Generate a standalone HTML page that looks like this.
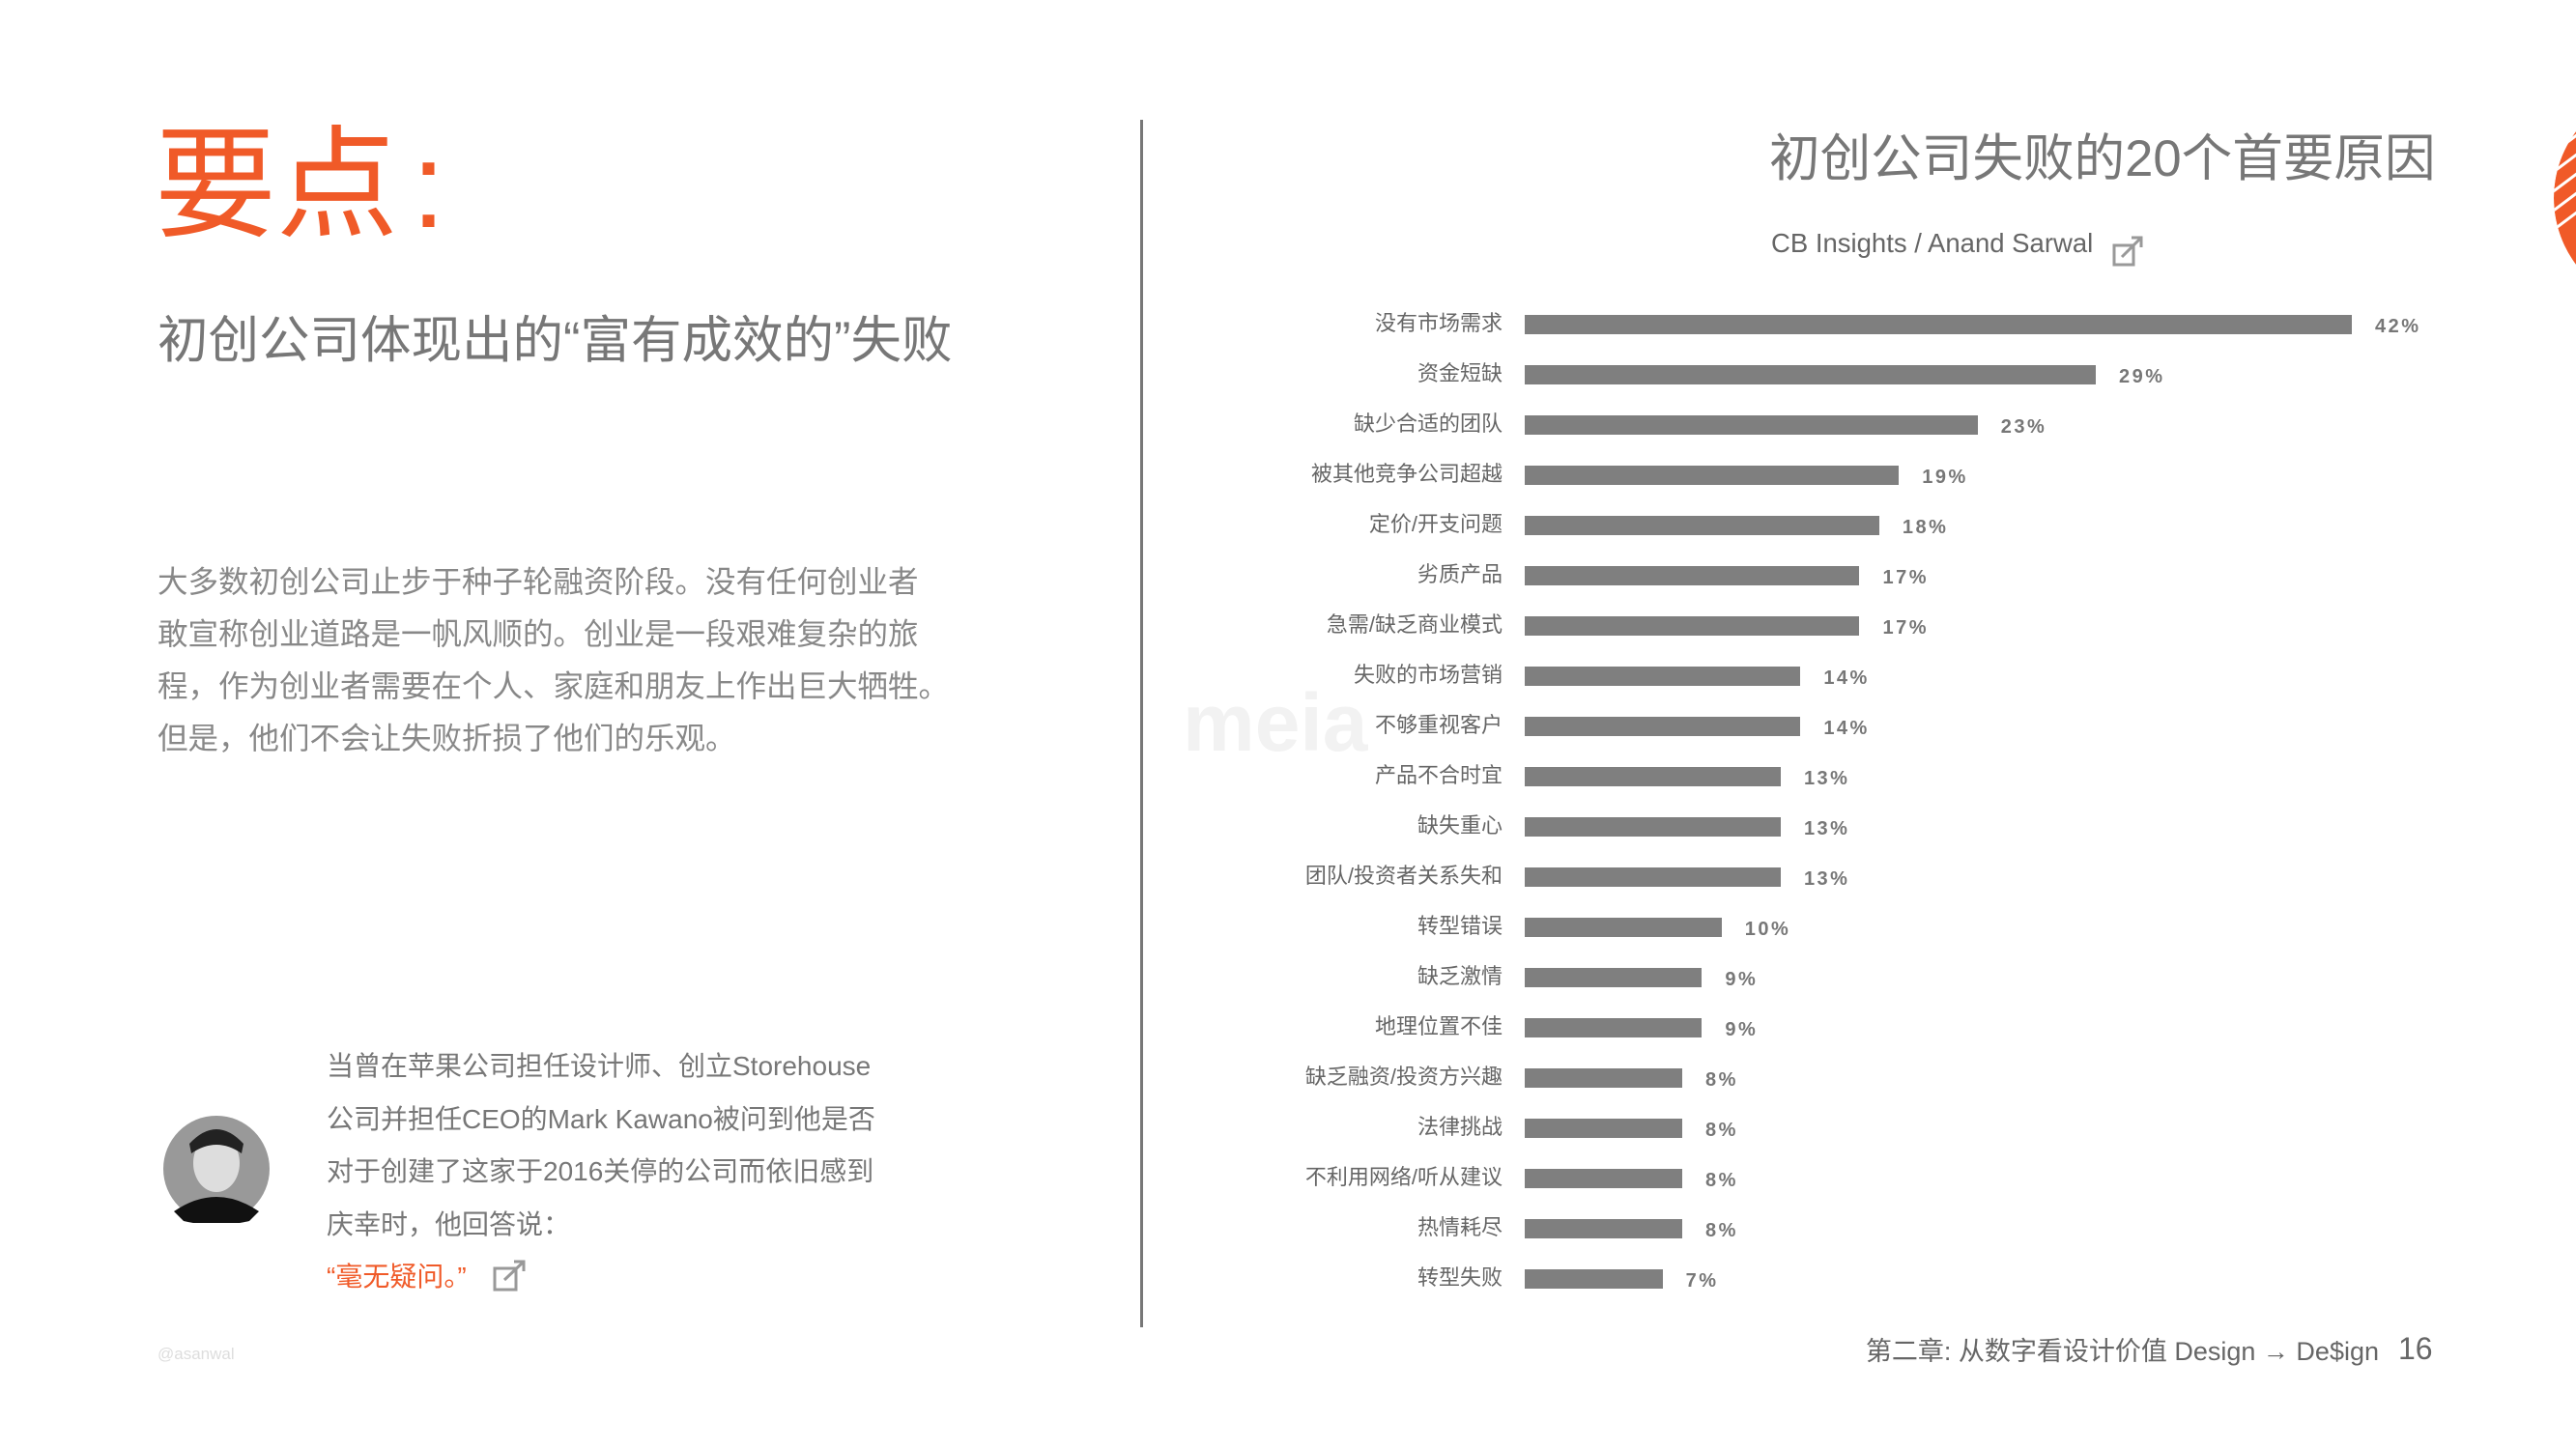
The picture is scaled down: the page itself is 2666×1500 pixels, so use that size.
<!DOCTYPE html>
<html><head><meta charset="utf-8"><style>
body{margin:0;width:2666px;height:1500px;background:#fff;position:relative;overflow:hidden;font-family:"Liberation Sans","Noto Sans CJK SC",sans-serif;color:#777;}
.a{position:absolute;white-space:nowrap;}
.lbl{position:absolute;right:1111px;font-size:22px;color:#666;line-height:22px;}
.bar{position:absolute;left:1578px;height:20px;background:#7f7f7f;}
.val{position:absolute;font-size:20px;font-weight:bold;color:#777;letter-spacing:2.5px;line-height:20px;}
</style></head><body>
<div class="a" style="left:160px;top:122px;font-size:126px;line-height:140px;color:#f05a28;">要点<span style="margin-left:14px">:</span></div>
<div class="a" style="left:163px;top:323px;font-size:52.5px;line-height:60px;color:#777;">初创公司体现出的“富有成效的”失败</div>
<div class="a" style="left:163px;top:575px;font-size:31.5px;line-height:54px;color:#888;">大多数初创公司止步于种子轮融资阶段。没有任何创业者<br>敢宣称创业道路是一帆风顺的。创业是一段艰难复杂的旅<br>程，作为创业者需要在个人、家庭和朋友上作出巨大牺牲。<br>但是，他们不会让失败折损了他们的乐观。</div>
<div class="a" style="left:1224px;top:700px;font-size:84px;font-weight:bold;color:#f2f2f2;">meia</div>
<div class="a" style="left:1180px;top:124px;width:3px;height:1250px;background:#777;"></div>
<svg class="a" style="left:168px;top:1154px" width="112" height="112"><circle cx="56" cy="56" r="55" fill="#999"/><ellipse cx="56" cy="50" rx="24" ry="30" fill="#ddd"/><path d="M28 30 Q56 0 84 30 L82 40 Q56 22 30 40Z" fill="#222"/><path d="M12 100 Q56 70 100 100 L90 110 Q56 118 22 110Z" fill="#111"/></svg>
<div class="a" style="left:338px;top:1077px;font-size:28px;line-height:54.5px;color:#777;">当曾在苹果公司担任设计师、创立Storehouse<br>公司并担任CEO的Mark Kawano被问到他是否<br>对于创建了这家于2016关停的公司而依旧感到<br>庆幸时，他回答说：<br><span style="color:#f05a28">“毫无疑问。”</span></div>
<svg class="a" style="left:510px;top:1303px" width="36" height="36"><rect x="2" y="10" width="22" height="22" fill="none" stroke="#999" stroke-width="3"/><path d="M12 22 L32 3 M22 3 H32 V13" fill="none" stroke="#999" stroke-width="3"/></svg>
<div class="a" style="left:163px;top:1392px;font-size:17px;color:#ddd;">@asanwal</div>
<div class="a" style="left:1831px;top:132px;font-size:52.6px;line-height:66px;color:#777;">初创公司失败的20个首要原因</div>
<div class="a" style="left:1833px;top:236px;font-size:27.5px;line-height:32px;color:#666;">CB Insights / Anand Sarwal</div>
<svg class="a" style="left:2186px;top:242px" width="36" height="36"><rect x="2" y="12" width="20" height="20" fill="none" stroke="#999" stroke-width="3"/><path d="M10 24 L30 4 M20 4 H30 V14" fill="none" stroke="#999" stroke-width="3"/></svg>
<svg class="a" style="left:2600px;top:90px" width="66" height="240"><defs><clipPath id="c"><circle cx="158" cy="115" r="115"/></clipPath></defs><g clip-path="url(#c)"><circle cx="158" cy="115" r="115" fill="#f05a28"/><g stroke="#fff" stroke-width="3">
<line x1="0" y1="60" x2="80" y2="0"/><line x1="0" y1="80" x2="100" y2="5"/><line x1="0" y1="100" x2="120" y2="10"/><line x1="0" y1="120" x2="140" y2="15"/><line x1="0" y1="140" x2="160" y2="20"/><line x1="0" y1="160" x2="180" y2="25"/><line x1="0" y1="180" x2="200" y2="30"/></g></g></svg>
<div id="chart"></div>
<div class="a" style="right:204px;top:1382px;font-size:27px;line-height:34px;color:#666;">第二章: 从数字看设计价值 Design → De$ign</div>
<div class="a" style="left:2482px;top:1376px;font-size:32px;line-height:40px;color:#666;">16</div>
<script>
var d=[["没有市场需求",42],["资金短缺",29],["缺少合适的团队",23],["被其他竞争公司超越",19],["定价/开支问题",18],["劣质产品",17],["急需/缺乏商业模式",17],["失败的市场营销",14],["不够重视客户",14],["产品不合时宜",13],["缺失重心",13],["团队/投资者关系失和",13],["转型错误",10],["缺乏激情",9],["地理位置不佳",9],["缺乏融资/投资方兴趣",8],["法律挑战",8],["不利用网络/听从建议",8],["热情耗尽",8],["转型失败",7]];
var h="";d.forEach(function(r,i){var c=336+i*52;var w=r[1]*20.38;
h+='<div class="lbl" style="top:'+(c-12)+'px">'+r[0]+'</div><div class="bar" style="top:'+(c-10)+'px;width:'+w+'px"></div><div class="val" style="left:'+(1578+w+24)+'px;top:'+(c-8)+'px">'+r[1]+'%</div>';});
document.getElementById("chart").innerHTML=h;
</script>
</body></html>
